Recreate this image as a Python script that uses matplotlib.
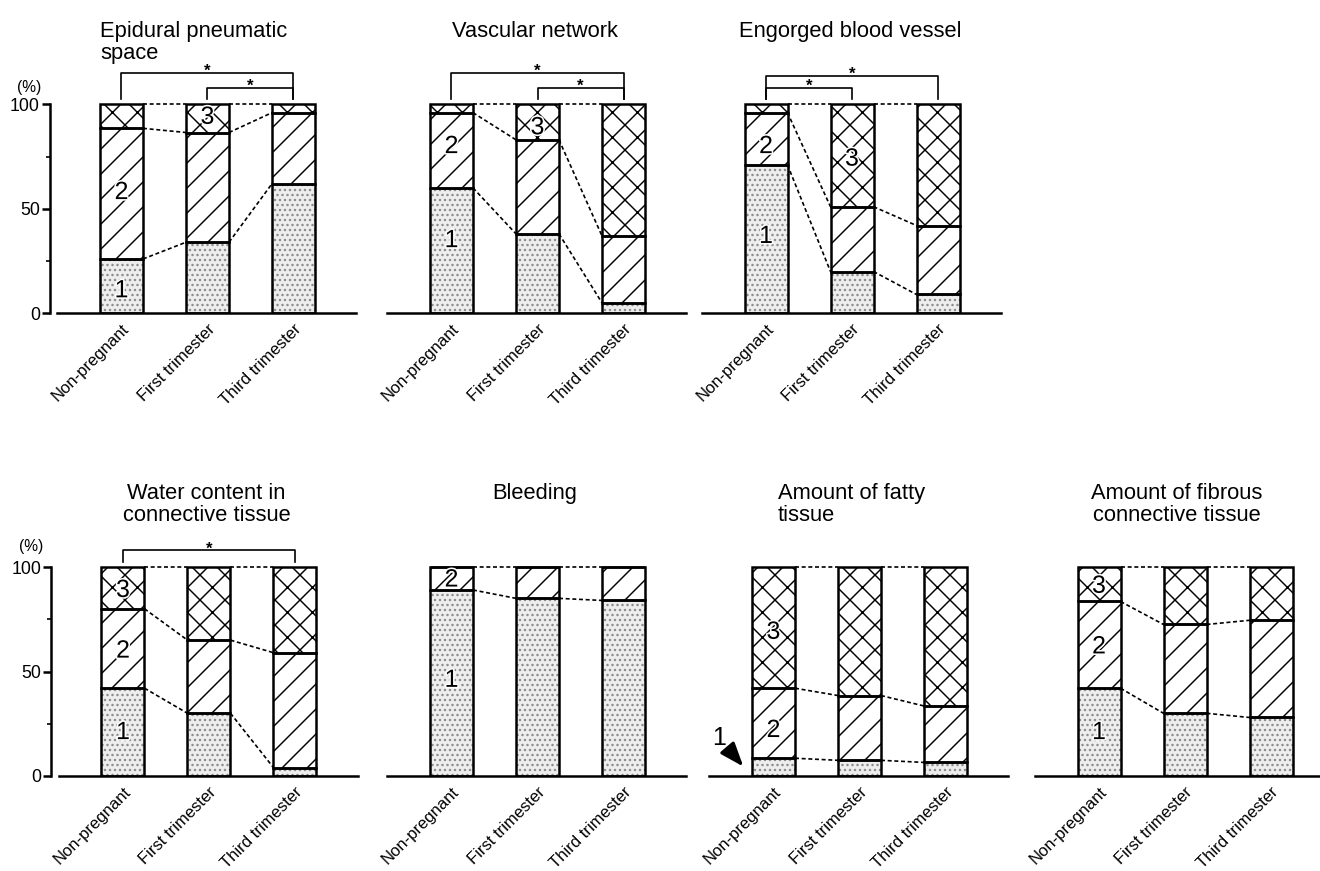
import numpy as np
import matplotlib
matplotlib.use('Agg')
import matplotlib.pyplot as plt
import matplotlib.patheffects as pe

plt.rcParams['font.family'] = ['Liberation Sans', 'DejaVu Sans']
plt.rcParams['hatch.linewidth'] = 0.7

groups = ['Non-pregnant', 'First trimester', 'Third trimester']

titles = ['Epidural pneumatic\nspace', 'Vascular network', 'Engorged blood vessel',
          'Water content in\nconnective tissue', 'Bleeding', 'Amount of fatty\ntissue',
          'Amount of fibrous\nconnective tissue']

# percent of grade 1 / 2 / 3 in each group
grade1 = [[26, 34, 62], [60, 38, 5], [71, 20, 9], [42, 30, 4],
          [89, 85, 84], [8.5, 7.5, 6.5], [42, 30, 28]]
grade2 = [[62.5, 52.5, 34], [36, 45, 32], [25, 31, 33], [38, 35, 55],
          [11, 15, 16], [33.5, 31, 27], [41.5, 42.5, 46.5]]
grade3 = [[11.5, 13.5, 4], [4, 17, 63], [4, 49, 58], [20, 35, 41],
          [0, 0, 0], [58, 61.5, 66.5], [16.5, 27.5, 25.5]]

# significance brackets: (from group, to group, height)
brackets = [[(0, 2, 115), (1, 2, 108)],
            [(0, 2, 115), (1, 2, 108)],
            [(0, 2, 113.5), (0, 1, 108)],
            [(0, 2, 108)],
            [], [], []]

# grade numbers written in the bars: (group, y, text)
numbers = [[(0, 11, '1'), (0, 58, '2'), (1, 94, '3')],
           [(0, 35, '1'), (0, 80, '2'), (1, 89, '3')],
           [(0, 37, '1'), (0, 80, '2'), (1, 74, '3')],
           [(0, 21, '1'), (0, 60, '2'), (0, 89, '3')],
           [(0, 46, '1'), (0, 94, '2')],
           [(0, 22, '2'), (0, 69, '3')],
           [(0, 21, '1'), (0, 62, '2'), (0, 91, '3')]]

# layout in pixels
W, H = 1320, 871
dpi = 150
centers = [121.5, 451.5, 766, 123, 451.5, 773.5, 1099]
baselines = [313.3, 313.3, 313.3, 776, 776, 776, 776]
title_x = [-0.25, 0.97, 0.98, 0.97, 0.97, 0.05, 0.9]
title_ha = ['left', 'center', 'center', 'center', 'center', 'left', 'center']
px_x = 86.0
px_y = 2.09
xlo, xhi = -0.75, 2.73
ytop = 125

fig = plt.figure(figsize=(W / dpi, H / dpi), dpi=dpi)

x = np.arange(3)
bw = 0.5
styles = [dict(facecolor='#eeeeee', edgecolor='#8a8a8a', hatch='.....'),
          dict(facecolor='white', edgecolor='black', hatch='//'),
          dict(facecolor='white', edgecolor='black', hatch='xx')]

for k in range(7):
    left = (centers[k] + xlo * px_x) / W
    bottom = (H - baselines[k]) / H
    ax = fig.add_axes([left, bottom, (xhi - xlo) * px_x / W, ytop * px_y / H])
    ax.set_xlim(xlo, xhi)
    ax.set_ylim(0, ytop)

    segs = [np.array(grade1[k]), np.array(grade2[k]), np.array(grade3[k])]
    base = np.zeros(3)
    levels = []
    for s, vals in enumerate(segs):
        ax.bar(x, vals, bw, bottom=base, linewidth=0, zorder=2, **styles[s])
        ax.bar(x, vals, bw, bottom=base, fill=False, edgecolor='black',
               linewidth=1.2, zorder=3)
        base = base + vals
        levels.append(base.copy())

    # dashed connectors between boundary levels
    done = []
    for lv in levels:
        key = tuple(np.round(lv, 3))
        if key in done:
            continue
        done.append(key)
        for i in range(2):
            ax.plot([x[i] + bw / 2, x[i + 1] - bw / 2], [lv[i], lv[i + 1]],
                    color='black', lw=0.8, ls=(0, (2.4, 1.6)), zorder=4)

    for i, j, h in brackets[k]:
        ax.plot([x[i], x[i], x[j], x[j]], [102.5, h, h, 102.5], color='black',
                lw=0.8, clip_on=False)
        ax.text((x[i] + x[j]) / 2, h - 1.5, '*', ha='center', va='baseline',
                fontsize=8, fontweight='bold', clip_on=False)

    for g, yv, t in numbers[k]:
        ax.text(x[g], yv, t, ha='center', va='center', fontsize=12, zorder=5,
                path_effects=[pe.withStroke(linewidth=1.5, foreground='white')])

    ax.text(title_x[k], 140, titles[k], ha=title_ha[k], va='top', fontsize=10.5,
            linespacing=1.05, clip_on=False)

    for side in ['top', 'right']:
        ax.spines[side].set_visible(False)
    ax.spines['bottom'].set_linewidth(1.2)
    ax.set_xticks(x)
    ax.set_xticklabels(groups, rotation=45, ha='right', rotation_mode='anchor',
                       fontsize=8)
    ax.tick_params(axis='x', length=0, pad=4)

    if k in (0, 3):
        ax.spines['left'].set_position(('outward', 3.4))
        ax.spines['left'].set_bounds(0, 100)
        ax.spines['left'].set_linewidth(1.2)
        ax.set_yticks([0, 50, 100])
        ax.set_yticks([25, 75], minor=True)
        ax.tick_params(axis='y', which='major', length=3.8, width=1.2, pad=1,
                       labelsize=8.5)
        ax.tick_params(axis='y', which='minor', length=2, width=0.8)
        ax.text(-1.07, 108 if k == 0 else 110, '(%)', ha='center', va='center',
                fontsize=7.5, clip_on=False)
    else:
        ax.spines['left'].set_visible(False)
        ax.set_yticks([])

    if k == 5:
        ax.annotate('1', xy=(-0.35, 4.5), xytext=(-0.63, 18), ha='center',
                    va='center', fontsize=12,
                    arrowprops=dict(arrowstyle='-|>,head_width=0.3,head_length=0.8',
                                    color='black', lw=1.5, shrinkA=3, shrinkB=0))

fig.savefig('out.png', dpi=dpi)
